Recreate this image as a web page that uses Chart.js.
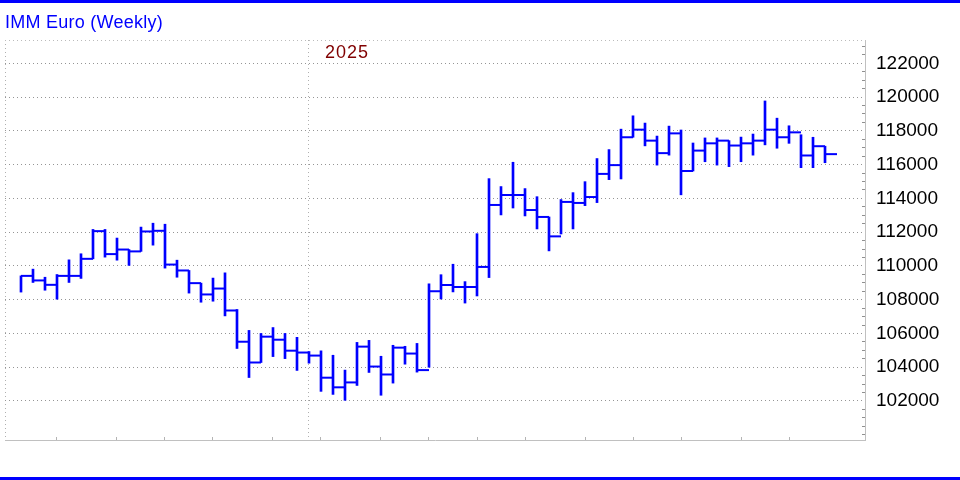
<!DOCTYPE html>
<html>
<head>
<meta charset="utf-8">
<script src="https://cdn.jsdelivr.net/npm/chart.js@4.4.1/dist/chart.umd.min.js"></script>
<style>
  body { margin: 0; background: #fff; }
  #wrap { position: relative; width: 960px; height: 480px; overflow: hidden; background: #fff;
          font-family: "Liberation Sans", Arial, sans-serif; }
  canvas { position: absolute; left: 0; top: 0; }
  .rule { position: absolute; left: 0; width: 960px; background: #0000ff; }
  #title { position: absolute; left: 5px; top: 13px; font-size: 18px; line-height: 18px;
           color: #0000ff; letter-spacing: 0.25px; white-space: nowrap; }
  #year { position: absolute; left: 325px; top: 43px; font-size: 18px; line-height: 18px;
          color: #800000; letter-spacing: 1px; }
</style>
</head>
<body>
<div id="wrap">
  <canvas id="chart" width="960" height="480"></canvas>
  <div class="rule" style="top:0;height:3px"></div>
  <div class="rule" style="top:477px;height:3px"></div>
  <div id="title">IMM Euro (Weekly)</div>
  <div id="year">2025</div>
</div>
<script>
// weekly bars, oldest first
const highs = [
  109410, 109810, 109330, 109490, 110360, 110720, 112160, 112160, 111650, 110970,
  112300, 112530, 112470, 110340, 109730, 108980, 109280, 109590, 107420, 106180,
  106000, 106350, 106000, 105770, 104930, 104970, 104710, 103830, 105470, 105590,
  104650, 105300, 105240, 105410, 108940, 109480, 110100, 109070, 111910, 115170,
  114700, 116140, 114580, 114100, 112900, 113930, 114340, 114990, 116360, 116890,
  118100, 118890, 118460, 117690, 118280, 118050, 117280, 117580, 117580, 117420,
  117630, 117810, 119770, 118750, 118300, 117770, 117620, 117090
];
const lows = [
  108450, 109020, 108560, 108030, 109020, 109260, 110420, 110520, 110340, 110030,
  110860, 111230, 109870, 109330, 108390, 107850, 107910, 107040, 105110, 103390,
  104280, 104630, 104510, 103810, 104240, 102570, 102390, 102040, 102920, 103690,
  102340, 103060, 104180, 103710, 104000, 108040, 108460, 107800, 108220, 109310,
  113020, 113430, 112960, 112190, 110890, 111890, 112190, 113570, 113750, 115110,
  115150, 117620, 117110, 115970, 116560, 114210, 115620, 116170, 115970, 115880,
  116170, 116560, 117170, 116970, 117260, 115820, 115820, 116110
];
const closes = [
  109410, 109140, 108880, 109410, 109410, 110420, 112060, 110700, 110970, 110860,
  112040, 112080, 110080, 109730, 108980, 108310, 108660, 107360, 105510, 104280,
  105810, 105630, 104980, 104870, 104690, 103380, 102810, 103100, 105220, 104040,
  103570, 105160, 104810, 103830, 108500, 108870, 108750, 108750, 109940, 113610,
  114200, 114200, 113310, 112900, 111750, 113790, 113730, 114080, 115450, 115970,
  117620, 118070, 117420, 116680, 117850, 115620, 116830, 117260, 117420, 117130,
  117260, 117420, 118070, 117620, 117910, 116540, 117090, 116620
];

// weeks that carry a month tick, and the week where 2025 starts
const monthTicks = [3, 8, 12, 16, 21, 25, 30, 34, 38, 42, 47, 51, 55, 60, 64];
const yearWeek = 24;
const priceLabels = [102000, 104000, 106000, 108000, 110000, 112000,
                     114000, 116000, 118000, 120000, 122000];

const BLUE = '#0000ff';

const rangeData = highs.map((h, i) => ({ x: i, y: [lows[i], h] }));
// the close tick runs from its bar to the next one, so centre it half a week on
const closeData = closes.map((c, i) => ({ x: i + 0.5, y: c }));

function halfWeek(ctx) {
  const x = ctx.chart.scales.x;
  return (x.getPixelForValue(1) - x.getPixelForValue(0)) / 2;
}

function isMajor(v) { return priceLabels.includes(v); }

new Chart(document.getElementById('chart'), {
  type: 'bar',
  data: {
    datasets: [
      {
        type: 'bar',
        data: rangeData,
        backgroundColor: BLUE,
        borderWidth: 0,
        barThickness: 2
      },
      {
        type: 'line',
        data: closeData,
        showLine: false,
        pointStyle: 'line',
        pointRadius: halfWeek,
        pointHoverRadius: halfWeek,
        pointBorderColor: BLUE,
        pointBorderWidth: 2
      }
    ]
  },
  options: {
    responsive: false,
    animation: false,
    events: [],
    layout: { padding: { left: 5, top: 40, right: 0, bottom: 40 } },
    plugins: { legend: { display: false }, tooltip: { enabled: false } },
    scales: {
      x: {
        type: 'linear',
        min: -1.333,
        max: 70.333,
        offset: false,
        afterBuildTicks: s => {
          s.ticks = [s.min, ...monthTicks, yearWeek].sort((a, b) => a - b).map(v => ({ value: v }));
        },
        afterFit: s => { s.height = 0; },
        ticks: { display: false, autoSkip: false },
        grid: {
          offset: false,
          lineWidth: 1,
          tickLength: -3,
          color: c => (c.tick && monthTicks.includes(c.tick.value)) ? 'transparent' : '#b0b0b0',
          tickColor: c => (c.tick && monthTicks.includes(c.tick.value)) ? '#b4b4b4' : 'transparent'
        },
        border: { color: '#c0c0c0', width: 1, dash: [1, 3] }
      },
      y: {
        position: 'right',
        min: 99690,
        max: 123380,
        afterBuildTicks: s => {
          const t = [];
          for (let v = 100000; v <= 123000; v += 500) t.push({ value: v });
          t.push({ value: s.max });
          s.ticks = t;
        },
        afterFit: s => { s.width = 95; },
        ticks: {
          autoSkip: false,
          padding: 14,
          color: '#000',
          font: { family: '"Liberation Sans", Arial, sans-serif', size: 19 },
          callback: v => isMajor(v) ? String(v) : ''
        },
        grid: {
          lineWidth: 1,
          tickLength: -3,
          color: c => {
            const v = c.tick && c.tick.value;
            if (isMajor(v)) return '#959595';
            if (v === c.scale.max) return '#bbbbbb';
            return 'transparent';
          },
          tickColor: c => {
            const v = c.tick && c.tick.value;
            return (isMajor(v) || v === c.scale.max) ? 'transparent' : '#909090';
          }
        },
        border: { color: '#c0c0c0', width: 1, dash: [1, 3] }
      }
    }
  }
});
</script>
</body>
</html>
